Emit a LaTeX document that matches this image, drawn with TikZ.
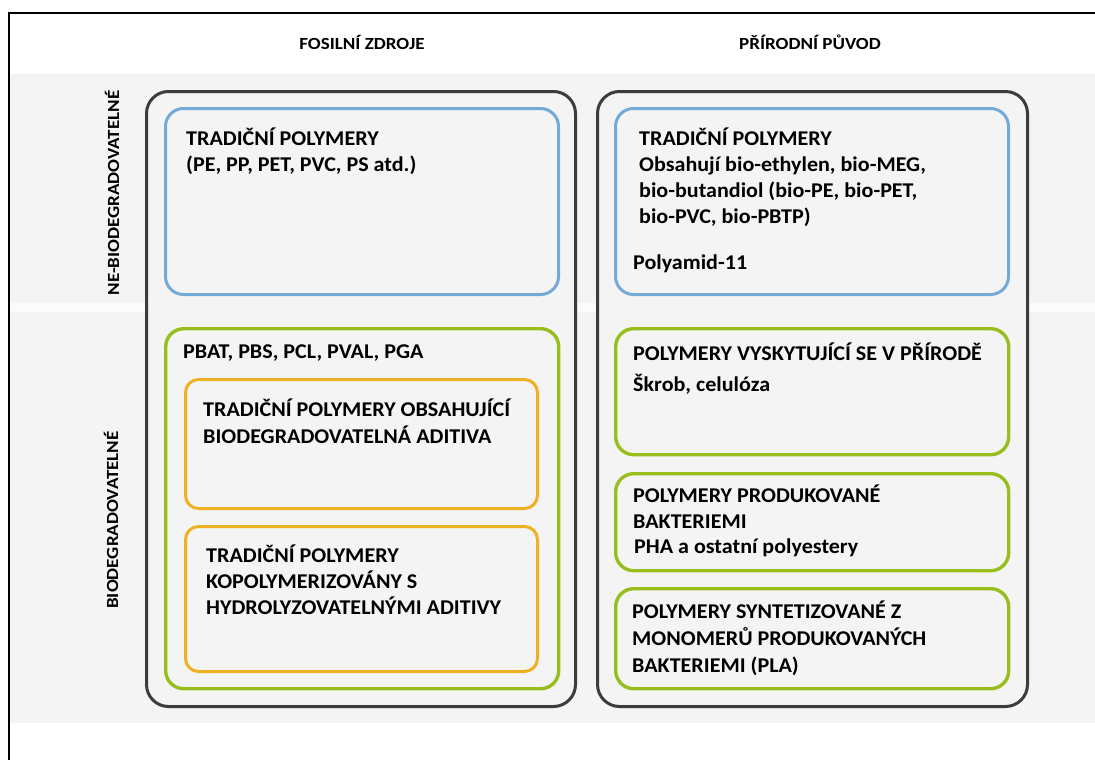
\documentclass[tikz,border=0pt]{standalone}
\usepackage{fontspec}
\setmainfont{Carlito}
\newfontfamily\bodyfont[FakeStretch=1.05]{Carlito}
\newfontfamily\headfont[FakeStretch=1.12]{Carlito}
\definecolor{bandgray}{HTML}{F4F4F4}
\definecolor{sepwhite}{HTML}{FBFBFB}
\definecolor{darkframe}{HTML}{3C3C3C}
\definecolor{bluebox}{HTML}{74AAD8}
\definecolor{greenbox}{HTML}{98BE1E}
\definecolor{orangebox}{HTML}{EEB124}
\begin{document}
\begin{tikzpicture}[x=1pt,y=-1pt,
  box/.style={draw, anchor=north west, inner sep=0pt, fill=bandgray, line width=3pt},
  outerbox/.style={box, draw=darkframe, rounded corners=22pt},
  bluestyle/.style={box, draw=bluebox, rounded corners=18pt},
  greenstyle/.style={box, draw=greenbox, line width=3.4pt, rounded corners=18pt},
  orangestyle/.style={box, draw=orangebox, rounded corners=13pt},
  txt/.style={anchor=base west, inner sep=0pt, font=\bodyfont\fontsize{21}{24}\selectfont\bfseries},
  head/.style={anchor=base, inner sep=0pt, font=\headfont\fontsize{17}{20}\selectfont\bfseries},
  side/.style={inner sep=0pt, rotate=90, font=\headfont\fontsize{17}{20}\selectfont\bfseries}]
\useasboundingbox (0,0) rectangle (1095,760);
\fill[white] (0,0) rectangle (1095,760);
\fill[bandgray] (10,74) rectangle (1095,723);
\fill[sepwhite] (10,303) rectangle (1095,312);
\coordinate (tl) at (9,13);
\coordinate (tr) at (1095,13);
\coordinate (bl) at (9,760);
\draw[line width=2pt] (tr) -- (tl) -- (bl);

% headers
\node[head] (h1) at (362,49) {FOSILNÍ ZDROJE};
\node[head] (h2) at (810,49) {PŘÍRODNÍ PŮVOD};
\node[side] (s1) at (112,193) {NE-BIODEGRADOVATELNÉ};
\node[side] (s2) at (111,520) {BIODEGRADOVATELNÉ};

% outer boxes
\node[outerbox, minimum width=429pt, minimum height=615pt] (leftouter) at (145,90) {};
\node[outerbox, minimum width=430pt, minimum height=615pt] (rightouter) at (596,90) {};

% blue boxes
\node[bluestyle, minimum width=393pt, minimum height=186pt] (lblue) at (164,107) {};
\node[bluestyle, minimum width=393pt, minimum height=186pt] (rblue) at (614,107) {};

% green boxes
\node[greenstyle, minimum width=393pt, minimum height=360pt] (lgreen) at (164,327) {};
\node[greenstyle, minimum width=393pt, minimum height=126pt] (rgreen1) at (614,327) {};
\node[greenstyle, minimum width=393pt, minimum height=97pt] (rgreen2) at (614,472) {};
\node[greenstyle, minimum width=393pt, minimum height=100pt] (rgreen3) at (614,587) {};

% orange boxes
\node[orangestyle, minimum width=352pt, minimum height=129pt] (or1) at (184,378) {};
\node[orangestyle, minimum width=352pt, minimum height=145pt] (or2) at (184,525) {};

% texts left blue
\node[txt] (t1) at (186,145) {TRADIČNÍ POLYMERY};
\node[txt] (t2) at (186,171) {(PE, PP, PET, PVC, PS atd.)};

% texts right blue
\node[txt] (t3) at (639,145) {TRADIČNÍ POLYMERY};
\node[txt] (t4) at (639,171) {Obsahují bio-ethylen, bio-MEG,};
\node[txt] (t5) at (639,197) {bio-butandiol (bio-PE, bio-PET,};
\node[txt] (t6) at (639,223) {bio-PVC, bio-PBTP)};
\node[txt] (t7) at (633,269) {Polyamid-11};

% left green
\node[txt] (t8) at (183,358) {PBAT, PBS, PCL, PVAL, PGA};
\node[txt] (t9) at (203,416) {TRADIČNÍ POLYMERY OBSAHUJÍCÍ};
\node[txt] (t10) at (203,443) {BIODEGRADOVATELNÁ ADITIVA};
\node[txt] (t11) at (206,562) {TRADIČNÍ POLYMERY};
\node[txt] (t12) at (206,588) {KOPOLYMERIZOVÁNY S};
\node[txt] (t13) at (206,614) {HYDROLYZOVATELNÝMI ADITIVY};

% right green
\node[txt] (t14) at (633,360) {POLYMERY VYSKYTUJÍCÍ SE V PŘÍRODĚ};
\node[txt] (t15) at (633,391) {Škrob, celulóza};
\node[txt] (t16) at (633,502) {POLYMERY PRODUKOVANÉ};
\node[txt] (t17) at (633,528) {BAKTERIEMI};
\node[txt] (t18) at (634,553) {PHA a ostatní polyestery};
\node[txt] (t19) at (632,618) {POLYMERY SYNTETIZOVANÉ Z};
\node[txt] (t20) at (632,645) {MONOMERŮ PRODUKOVANÝCH};
\node[txt] (t21) at (632,672) {BAKTERIEMI (PLA)};
\end{tikzpicture}
\end{document}
